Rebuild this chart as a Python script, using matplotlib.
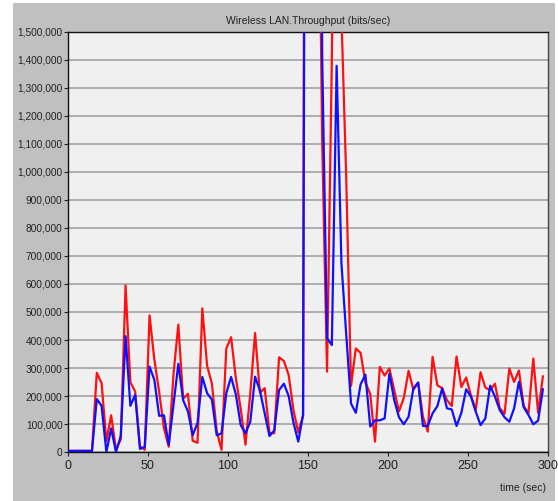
import matplotlib
matplotlib.use("Agg")
import matplotlib.pyplot as plt
from matplotlib.ticker import FuncFormatter, MultipleLocator
from matplotlib.patches import Rectangle

# time in seconds (3 s sampling)
time_sec = list(range(0, 300, 3))

# throughput in thousands of bits/sec
red_k = [4, 4, 4, 4, 4, 4, 283, 246, 39, 131,
         8, 45, 595, 249, 216, 20, 8, 488, 330, 215,
         85, 19, 280, 455, 190, 208, 40, 33, 513, 308,
         244, 75, 8, 370, 410, 262, 155, 26, 210, 425,
         212, 228, 68, 67, 338, 325, 275, 150, 70, 130,
         8000, 7000, 2500, 1100, 287, 1400, 3000, 1560, 980, 236,
         370, 354, 248, 208, 37, 304, 273, 298, 221, 145,
         193, 290, 222, 248, 125, 73, 340, 238, 228, 185,
         164, 341, 232, 266, 202, 150, 285, 230, 221, 244,
         157, 136, 298, 250, 291, 164, 139, 334, 140, 270]

blue_k = [4, 4, 4, 4, 4, 4, 189, 165, 0, 84,
          0, 57, 414, 165, 204, 11, 18, 305, 258, 129,
          131, 25, 170, 315, 185, 145, 60, 104, 268, 210,
          187, 60, 66, 210, 268, 205, 96, 67, 108, 269,
          220, 138, 57, 77, 221, 244, 200, 105, 37, 132,
          6000, 7000, 4000, 1400, 406, 382, 1379, 674, 420, 173,
          140, 242, 276, 91, 113, 113, 120, 280, 186, 124,
          99, 126, 227, 248, 93, 93, 138, 164, 227, 156,
          152, 93, 140, 224, 198, 144, 96, 120, 237, 198,
          150, 124, 108, 156, 251, 160, 132, 99, 112, 224]

red = [v * 1000 for v in red_k]
blue = [v * 1000 for v in blue_k]

title = "Wireless LAN.Throughput (bits/sec)"
xlabel = "time (sec)"

W, H = 558, 501
fig = plt.figure(figsize=(W / 100, H / 100), dpi=100)
fig.patch.set_facecolor("white")

# gray panel
panel = Rectangle((13 / W, 0), (555 - 13) / W, (H - 3) / H,
                  transform=fig.transFigure, facecolor="#c0c0c0",
                  edgecolor="none", zorder=-10)
fig.patches.append(panel)

left, right, top, bottom = 68 / W, 547.7 / W, 1 - 32 / H, 1 - 452 / H
ax = fig.add_axes([left, bottom, right - left, top - bottom])
ax.set_zorder(1)
ax.set_facecolor("#f0f0f0")

ax.plot(time_sec, red, color="#ff1010", lw=1.6, zorder=3, solid_joinstyle="round")
ax.plot(time_sec, blue, color="#1010ff", lw=1.6, zorder=4, solid_joinstyle="round")

ax.set_xlim(0, 300)
ax.set_ylim(0, 1500000)
ax.xaxis.set_major_locator(MultipleLocator(50))
ax.yaxis.set_major_locator(MultipleLocator(100000))
ax.yaxis.set_major_formatter(FuncFormatter(lambda v, p: f"{int(v):,}"))

ax.grid(axis="y", color="#9a9a9a", lw=1.1, zorder=1)
ax.set_axisbelow(True)

fam = ["Liberation Sans", "DejaVu Sans"]
ax.tick_params(axis="y", labelsize=7.3, length=3, width=0.8, colors="#222222", pad=1)
ax.tick_params(axis="x", labelsize=9, length=3, width=0.8, colors="#222222", pad=3)
for lab in ax.get_xticklabels() + ax.get_yticklabels():
    lab.set_family(fam)

for s in ["left", "bottom", "top"]:
    ax.spines[s].set_color("#111111")
    ax.spines[s].set_linewidth(1.0)
ax.spines["right"].set_color("#444444")
ax.spines["right"].set_linewidth(1.0)

fig.text(308 / W, 1 - 21 / H, title, ha="center", va="center", fontsize=7.5,
         family=fam, color="#222222")
fig.text(546 / W, 1 - 488 / H, xlabel, ha="right", va="center", fontsize=7.5,
         family=fam, color="#222222")

fig.savefig("out.png", dpi=100)
